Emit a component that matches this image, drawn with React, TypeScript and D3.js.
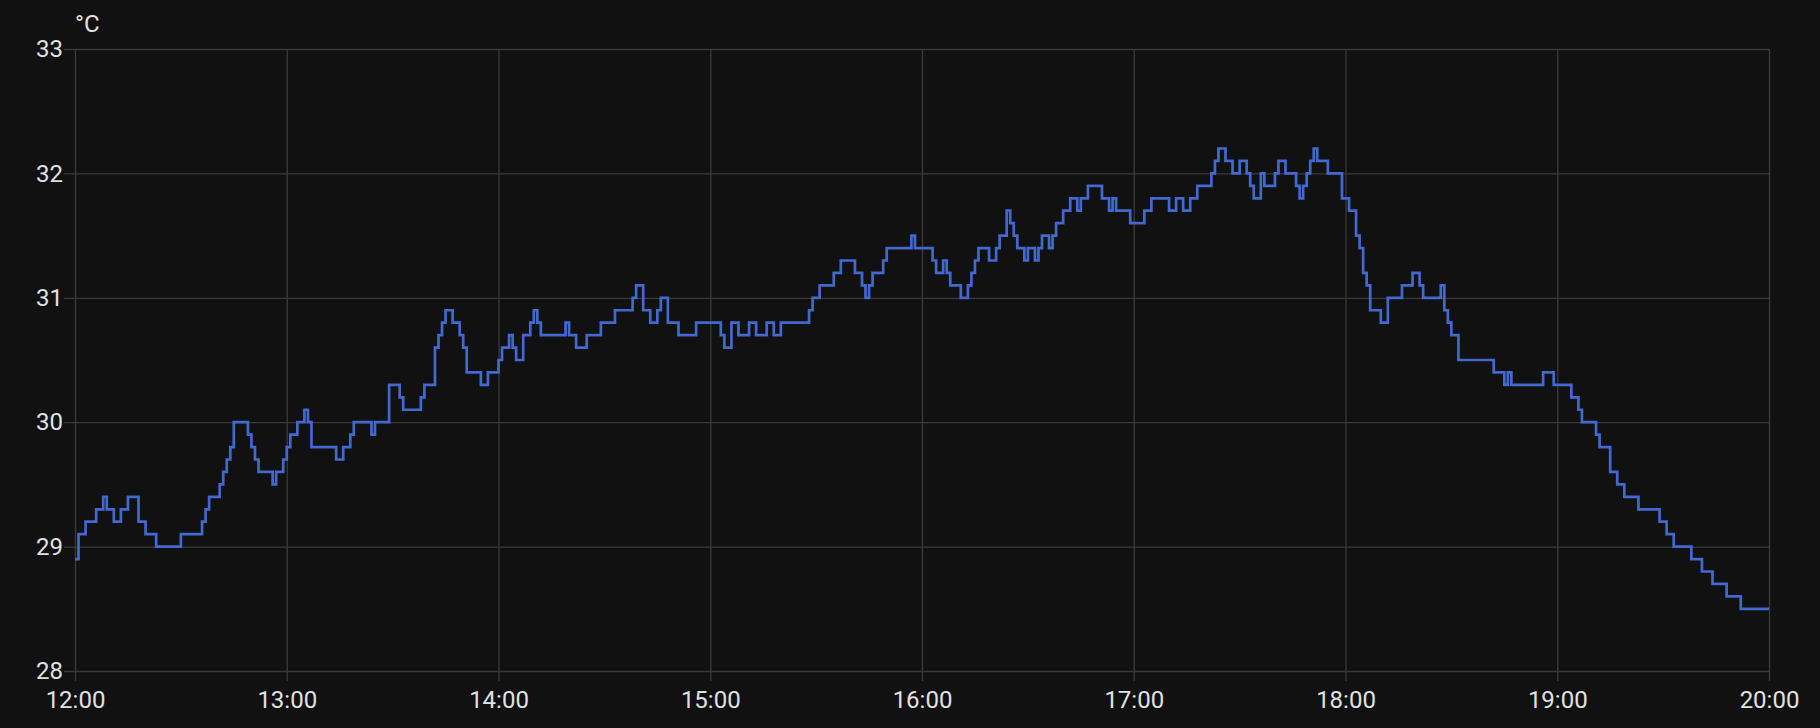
import { useEffect, useRef } from 'react';
import * as d3 from 'd3';

// readings (stepped, 0.1 °C resolution), time of change -> value
const times: string[] = [
    '12:00', '12:01', '12:03', '12:06', '12:08', '12:09', '12:11', '12:13', '12:15', '12:18',
    '12:20', '12:23', '12:30', '12:36', '12:37', '12:38', '12:41', '12:42', '12:43', '12:44',
    '12:45', '12:49', '12:50', '12:51', '12:52', '12:56', '12:57', '12:59', '13:00', '13:01',
    '13:03', '13:05', '13:06', '13:07', '13:14', '13:16', '13:18', '13:19', '13:24', '13:25',
    '13:29', '13:32', '13:33', '13:38', '13:39', '13:42', '13:43', '13:44', '13:45', '13:47',
    '13:49', '13:50', '13:51', '13:55', '13:57', '14:00', '14:01', '14:03', '14:04', '14:05',
    '14:07', '14:09', '14:10', '14:11', '14:12', '14:19', '14:20', '14:22', '14:25', '14:29',
    '14:33', '14:38', '14:39', '14:41', '14:43', '14:45', '14:46', '14:48', '14:51', '14:56',
    '15:03', '15:04', '15:06', '15:08', '15:11', '15:13', '15:16', '15:18', '15:20', '15:28',
    '15:29', '15:31', '15:35', '15:37', '15:41', '15:43', '15:44', '15:45', '15:46', '15:49',
    '15:50', '15:57', '15:58', '16:03', '16:04', '16:06', '16:07', '16:08', '16:11', '16:13',
    '16:14', '16:15', '16:16', '16:19', '16:21', '16:22', '16:24', '16:25', '16:26', '16:27',
    '16:29', '16:30', '16:32', '16:33', '16:34', '16:36', '16:37', '16:38', '16:40', '16:42',
    '16:44', '16:45', '16:47', '16:51', '16:53', '16:54', '16:55', '16:59', '17:03', '17:05',
    '17:10', '17:12', '17:14', '17:16', '17:18', '17:22', '17:23', '17:24', '17:26', '17:28',
    '17:30', '17:32', '17:33', '17:34', '17:36', '17:37', '17:40', '17:41', '17:43', '17:46',
    '17:47', '17:48', '17:49', '17:50', '17:51', '17:52', '17:55', '17:59', '18:01', '18:03',
    '18:04', '18:05', '18:06', '18:07', '18:10', '18:12', '18:16', '18:19', '18:21', '18:22',
    '18:27', '18:28', '18:29', '18:30', '18:32', '18:42', '18:45', '18:46', '18:47', '18:56',
    '18:59', '19:04', '19:06', '19:07', '19:11', '19:12', '19:15', '19:17', '19:19', '19:23',
    '19:29', '19:31', '19:33', '19:38', '19:41', '19:44', '19:48', '19:52', '20:00',
];

const temps: number[] = [
    28.9, 29.1, 29.2, 29.3, 29.4, 29.3, 29.2, 29.3, 29.4, 29.2,
    29.1, 29.0, 29.1, 29.2, 29.3, 29.4, 29.5, 29.6, 29.7, 29.8,
    30.0, 29.9, 29.8, 29.7, 29.6, 29.5, 29.6, 29.7, 29.8, 29.9,
    30.0, 30.1, 30.0, 29.8, 29.7, 29.8, 29.9, 30.0, 29.9, 30.0,
    30.3, 30.2, 30.1, 30.2, 30.3, 30.6, 30.7, 30.8, 30.9, 30.8,
    30.7, 30.6, 30.4, 30.3, 30.4, 30.5, 30.6, 30.7, 30.6, 30.5,
    30.7, 30.8, 30.9, 30.8, 30.7, 30.8, 30.7, 30.6, 30.7, 30.8,
    30.9, 31.0, 31.1, 30.9, 30.8, 30.9, 31.0, 30.8, 30.7, 30.8,
    30.7, 30.6, 30.8, 30.7, 30.8, 30.7, 30.8, 30.7, 30.8, 30.9,
    31.0, 31.1, 31.2, 31.3, 31.2, 31.1, 31.0, 31.1, 31.2, 31.3,
    31.4, 31.5, 31.4, 31.3, 31.2, 31.3, 31.2, 31.1, 31.0, 31.1,
    31.2, 31.3, 31.4, 31.3, 31.4, 31.5, 31.7, 31.6, 31.5, 31.4,
    31.3, 31.4, 31.3, 31.4, 31.5, 31.4, 31.5, 31.6, 31.7, 31.8,
    31.7, 31.8, 31.9, 31.8, 31.7, 31.8, 31.7, 31.6, 31.7, 31.8,
    31.7, 31.8, 31.7, 31.8, 31.9, 32.0, 32.1, 32.2, 32.1, 32.0,
    32.1, 32.0, 31.9, 31.8, 32.0, 31.9, 32.0, 32.1, 32.0, 31.9,
    31.8, 31.9, 32.0, 32.1, 32.2, 32.1, 32.0, 31.8, 31.7, 31.5,
    31.4, 31.2, 31.1, 30.9, 30.8, 31.0, 31.1, 31.2, 31.1, 31.0,
    31.1, 30.9, 30.8, 30.7, 30.5, 30.4, 30.3, 30.4, 30.3, 30.4,
    30.3, 30.2, 30.1, 30.0, 29.9, 29.8, 29.6, 29.5, 29.4, 29.3,
    29.2, 29.1, 29.0, 28.9, 28.8, 28.7, 28.6, 28.5, 28.5,
];

const xTickLabels: string[] = ['12:00', '13:00', '14:00', '15:00', '16:00', '17:00', '18:00', '19:00', '20:00'];
const yTickValues: number[] = [28, 29, 30, 31, 32, 33];
const unitLabel = '°C';

const App = () => {
    const svgRef = useRef<SVGSVGElement>(null);

    useEffect(() => {
        if (!svgRef.current) return;
        d3.select(svgRef.current).selectAll('*').remove();

        const width = 1820;
        const height = 728;
        const margin = { top: 49, right: 51, bottom: 57, left: 75 };
        const innerWidth = width - margin.left - margin.right;
        const innerHeight = height - margin.top - margin.bottom;

        const gridColor = '#3a3a3a';
        const textColor = '#e1e1e1';
        const font = 'Roboto, "Noto Sans", sans-serif';

        const parse = d3.timeParse('%H:%M');
        const data = times.map((t, i) => ({ time: parse(t) as Date, value: temps[i] }));
        const xTicks = xTickLabels.map(t => parse(t) as Date);

        const svg = d3.select(svgRef.current)
            .attr('width', width)
            .attr('height', height)
            .style('background', '#111111');

        const xScale = d3.scaleTime()
            .domain([xTicks[0], xTicks[xTicks.length - 1]])
            .range([margin.left, width - margin.right]);

        const yScale = d3.scaleLinear()
            .domain([28, 33])
            .range([margin.top + innerHeight, margin.top]);

        // horizontal grid + y labels
        const yAxis = svg.append('g')
            .attr('transform', `translate(${margin.left - 11},0)`)
            .call(d3.axisLeft(yScale).tickValues(yTickValues).tickSize(-(innerWidth + 11)).tickPadding(1).tickFormat(d3.format('d')));
        yAxis.select('.domain').remove();
        yAxis.selectAll('line').attr('stroke', gridColor).attr('stroke-width', 1.3);
        yAxis.selectAll('text')
            .attr('fill', textColor)
            .attr('font-size', 24)
            .attr('font-family', font);

        // vertical grid + x labels
        const xAxis = svg.append('g')
            .attr('transform', `translate(0,${margin.top})`)
            .call(d3.axisBottom(xScale).tickValues(xTicks).tickSize(innerHeight + 10).tickPadding(10).tickFormat(d3.timeFormat('%H:%M') as any));
        xAxis.select('.domain').remove();
        xAxis.selectAll('line').attr('stroke', gridColor).attr('stroke-width', 1.3);
        xAxis.selectAll('text')
            .attr('fill', textColor)
            .attr('font-size', 24)
            .attr('font-family', font);

        // unit
        svg.append('text')
            .attr('x', margin.left)
            .attr('y', 32)
            .attr('fill', textColor)
            .attr('font-size', 24)
            .attr('font-family', font)
            .text(unitLabel);

        const line = d3.line<{ time: Date; value: number }>()
            .x(d => xScale(d.time))
            .y(d => yScale(d.value))
            .curve(d3.curveStepAfter);

        svg.append('path')
            .datum(data)
            .attr('fill', 'none')
            .attr('stroke', '#4269d0')
            .attr('stroke-width', 2.7)
            .attr('stroke-linejoin', 'miter')
            .attr('d', line);
    }, []);

    return (
        <div style={{ position: 'fixed', left: 0, top: 0, width: 1820, height: 728, background: '#111111' }}>
            <svg ref={svgRef} style={{ display: 'block' }}></svg>
        </div>
    );
};

export default App;
